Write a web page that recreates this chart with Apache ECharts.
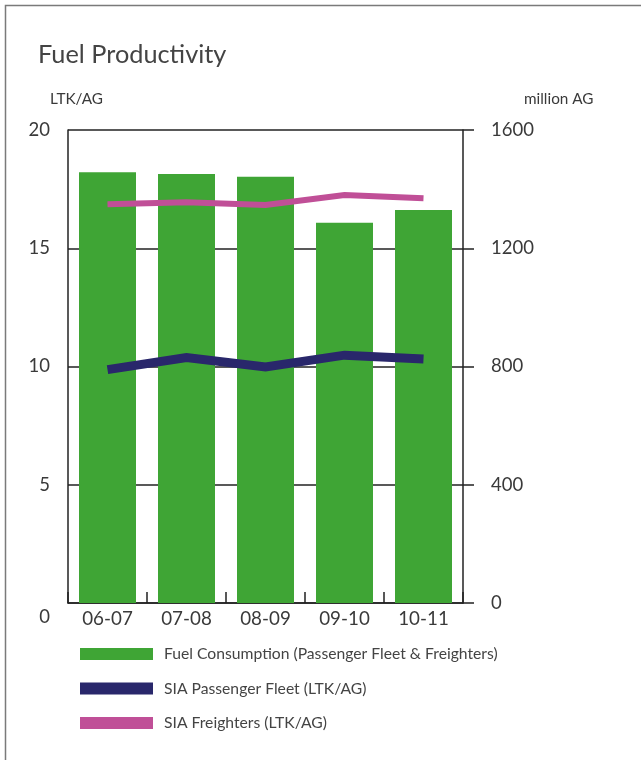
<!DOCTYPE html>
<html>
<head>
<meta charset="utf-8">
<title>Fuel Productivity</title>
<script src="https://cdn.jsdelivr.net/npm/echarts@6/dist/echarts.min.js"></script>
<style>
  html, body { margin: 0; padding: 0; background: #ffffff; }
  #chart { width: 641px; height: 760px; }
</style>
</head>
<body>
<div id="chart"></div>
<script>
// Financial years on the category axis
const years = ['06-07', '07-08', '08-09', '09-10', '10-11'];

// Fuel consumption, million AG (right axis)
const fuelConsumption = [1457, 1451, 1442, 1286, 1329];

// Fuel productivity, LTK/AG (left axis)
const passengerFleet = [9.87, 10.38, 9.98, 10.48, 10.32];
const freighters = [16.86, 16.95, 16.83, 17.25, 17.11];

// Axis ranges
const leftAxisMax = 20, leftAxisStep = 5;
const rightAxisMax = 1600, rightAxisStep = 400;

const FONT = 'Lato, "Open Sans", sans-serif';
const INK = '#222222';
const TEXT = '#3a3a3a';

const GREEN = '#3fa535';
const NAVY = '#29276b';
const PINK = '#c04f97';

const chart = echarts.init(document.getElementById('chart'), null, { renderer: 'canvas' });

chart.setOption({
  backgroundColor: '#ffffff',
  animation: false,
  textStyle: { fontFamily: FONT },
  graphic: [{
    type: 'rect',
    silent: true,
    shape: { x: 5.5, y: 5.5, width: 700, height: 800 },
    style: { fill: 'none', stroke: '#7a7a7a', lineWidth: 1.5 }
  }],
  title: [
    {
      text: 'Fuel Productivity',
      left: 38, top: 42, padding: 0,
      textStyle: { fontFamily: FONT, fontSize: 25.3, fontWeight: 'normal', color: '#444444' }
    },
    {
      text: 'LTK/AG',
      left: 50, top: 92, padding: 0,
      textStyle: { fontFamily: FONT, fontSize: 15.3, fontWeight: 'normal', color: TEXT }
    },
    {
      text: 'million AG',
      left: 524, top: 92, padding: 0,
      textStyle: { fontFamily: FONT, fontSize: 15.3, fontWeight: 'normal', color: TEXT, letterSpacing: 0.6 }
    }
  ],
  legend: {
    orient: 'vertical',
    left: 80, top: 646, padding: 0,
    itemWidth: 73, itemHeight: 12, itemGap: 18.5,
    itemStyle: { borderWidth: 0 },
    textStyle: { fontFamily: FONT, fontSize: 15.7, color: '#444444', padding: [0, 0, 0, 6] },
    data: [
      { name: 'Fuel Consumption (Passenger Fleet & Freighters)', icon: 'rect' },
      { name: 'SIA Passenger Fleet (LTK/AG)', icon: 'rect' },
      { name: 'SIA Freighters (LTK/AG)', icon: 'rect' }
    ]
  },
  grid: { left: 68, right: 178, top: 130, bottom: 157 },
  xAxis: {
    type: 'category',
    data: years,
    boundaryGap: true,
    axisLine: { show: true, lineStyle: { color: INK, width: 1.5 } },
    axisTick: { show: true, inside: true, length: 11, lineStyle: { color: INK, width: 1.5 } },
    axisLabel: { fontFamily: FONT, fontSize: 18.8, color: TEXT, margin: 6 }
  },
  yAxis: [
    {
      type: 'value',
      position: 'left',
      min: 0, max: leftAxisMax, interval: leftAxisStep,
      axisLine: { show: true, lineStyle: { color: INK, width: 1.5 } },
      axisTick: { show: false },
      splitLine: { show: true, lineStyle: { color: INK, width: 1.5 } },
      axisLabel: {
        fontFamily: FONT, fontSize: 18.5, color: TEXT, margin: 18,
        formatter: v => (v === 0 ? '{z|0}' : String(v)),
        rich: { z: { fontFamily: FONT, fontSize: 18.5, color: TEXT, padding: [28, 0, 0, 0] } }
      }
    },
    {
      type: 'value',
      position: 'right',
      min: 0, max: rightAxisMax, interval: rightAxisStep,
      axisLine: { show: true, lineStyle: { color: INK, width: 1.5 } },
      axisTick: { show: true, inside: false, length: 11, lineStyle: { color: INK, width: 1.5 } },
      splitLine: { show: false },
      axisLabel: {
        fontFamily: FONT, fontSize: 18.5, color: TEXT, margin: 28,
        formatter: v => String(v)
      }
    }
  ],
  series: [
    {
      name: 'Fuel Consumption (Passenger Fleet & Freighters)',
      type: 'bar',
      yAxisIndex: 1,
      data: fuelConsumption,
      barWidth: 57,
      itemStyle: { color: GREEN },
      z: 2
    },
    {
      name: 'SIA Passenger Fleet (LTK/AG)',
      type: 'line',
      yAxisIndex: 0,
      data: passengerFleet,
      symbol: 'none',
      color: NAVY,
      lineStyle: { color: NAVY, width: 9, join: 'miter' },
      itemStyle: { color: NAVY },
      z: 3
    },
    {
      name: 'SIA Freighters (LTK/AG)',
      type: 'line',
      yAxisIndex: 0,
      data: freighters,
      symbol: 'none',
      color: PINK,
      lineStyle: { color: PINK, width: 6, join: 'miter' },
      itemStyle: { color: PINK },
      z: 3
    }
  ]
});
</script>
</body>
</html>
